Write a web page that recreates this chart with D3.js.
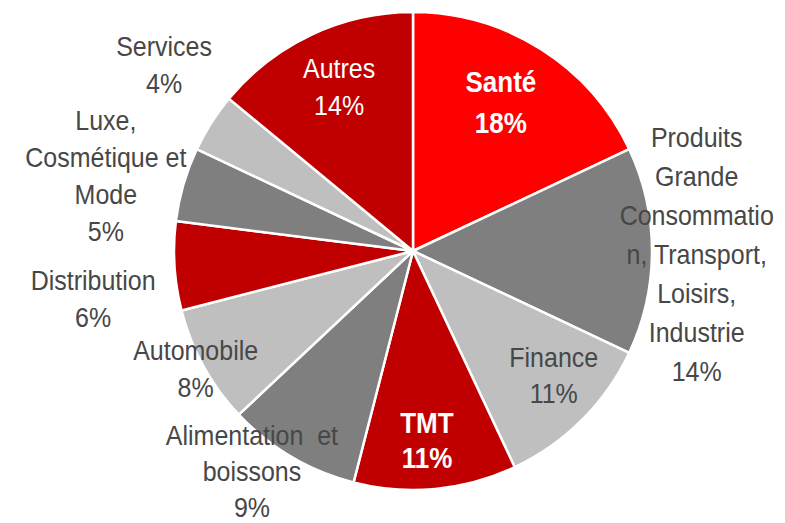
<!DOCTYPE html>
<html>
<head>
<meta charset="utf-8">
<script src="https://cdn.jsdelivr.net/npm/d3@7"></script>
<style>
  body { margin: 0; background: #ffffff; }
  svg { display: block; }
</style>
</head>
<body>
<div id="chart"></div>
<script>
// Data ------------------------------------------------------------------------------------------------------------
const categories = ["Santé", "Produits Grande Consommation, Transport, Loisirs, Industrie", "Finance", "TMT",
  "Alimentation et boissons", "Automobile", "Distribution", "Luxe, Cosmétique et Mode", "Services", "Autres"];
const shares = [18, 14, 11, 11, 9, 8, 6, 5, 4, 14];
const labelLines = [
  ["Santé"],
  ["Produits", "Grande", "Consommatio", "n, Transport,", "Loisirs,", "Industrie"],
  ["Finance"],
  ["TMT"],
  ["Alimentation  et", "boissons"],
  ["Automobile"],
  ["Distribution"],
  ["Luxe,", "Cosmétique et", "Mode"],
  ["Services"],
  ["Autres"]
];

// Styles / layout -------------------------------------------------------------------------------------------------
const sliceColors = ["#ff0000", "#7f7f7f", "#bfbfbf", "#c00000", "#7f7f7f", "#bfbfbf", "#c00000", "#7f7f7f", "#bfbfbf", "#c00000"];
const labelColors = ["#ffffff", "#474747", "#474747", "#ffffff", "#474747", "#474747", "#474747", "#474747", "#474747", "#ffffff"];
const labelBold = [true, false, false, true, false, false, false, false, false, false];
const labelRadius = [164, 284, 194, 200, 280.8, 252, 325, 314, 305, 171];
const labelNudge = [0, 2.6, -1.5, 1.4, 4.4, -1.6, -6.6, -4.2, 2.9, -0.4];   // degrees
const labelLineHeight = [41, 39, 36, 35, 36, 37, 37, 37, 37, 37];

const canvasWidth = 785;
const canvasHeight = 523;
const centerX = 413;
const centerY = 251;
const radius = 239;
const fontSize = 25;
const stretchY = 1.1;   // the original type is a little taller than Arial

const svg = d3.select("#chart")
  .append("svg")
  .attr("width", canvasWidth)
  .attr("height", canvasHeight);

const pieGroup = svg.append("g")
  .attr("transform", "translate(" + centerX + "," + centerY + ")");

const color = d3.scaleOrdinal()
  .domain(categories)
  .range(sliceColors);

const pie = d3.pie()
  .value(d => d.share)
  .sort(null);

const arc = d3.arc()
  .innerRadius(0)
  .outerRadius(radius);

const rows = categories.map((c, i) => ({ name: c, share: shares[i], index: i }));
const arcs = pie(rows);

// Slices ----------------------------------------------------------------------------------------------------------
pieGroup.selectAll("path")
  .data(arcs)
  .enter()
  .append("path")
  .attr("d", arc)
  .attr("fill", d => color(d.data.name))
  .attr("stroke", "#ffffff")
  .attr("stroke-width", 2.5)
  .attr("stroke-linejoin", "round");

// Labels ----------------------------------------------------------------------------------------------------------
const labels = pieGroup.selectAll("text")
  .data(arcs)
  .enter()
  .append("text")
  .attr("text-anchor", "middle")
  .attr("transform", function(d) {
    const i = d.data.index;
    const angle = (d.startAngle + d.endAngle) / 2 + labelNudge[i] * Math.PI / 180;
    const x = Math.sin(angle) * labelRadius[i];
    const y = -Math.cos(angle) * labelRadius[i];
    return "translate(" + x + "," + y + ") scale(1," + stretchY + ")";
  })
  .style("font-family", "'Liberation Sans', Arial, sans-serif")
  .style("font-size", d => (labelBold[d.data.index] ? fontSize + 1 : fontSize) + "px")
  .style("font-weight", d => labelBold[d.data.index] ? "bold" : "normal")
  .attr("fill", d => labelColors[d.data.index]);

labels.each(function(d) {
  const i = d.data.index;
  const lines = labelLines[i].concat([d.data.share + "%"]);
  const lh = labelLineHeight[i] / stretchY;
  const firstY = -(lines.length - 1) * lh / 2;
  d3.select(this).selectAll("tspan")
    .data(lines)
    .enter()
    .append("tspan")
    .attr("x", 0)
    .attr("y", (t, k) => firstY + k * lh)
    .style("white-space", "pre")
    .text(t => t);
});
</script>
</body>
</html>
